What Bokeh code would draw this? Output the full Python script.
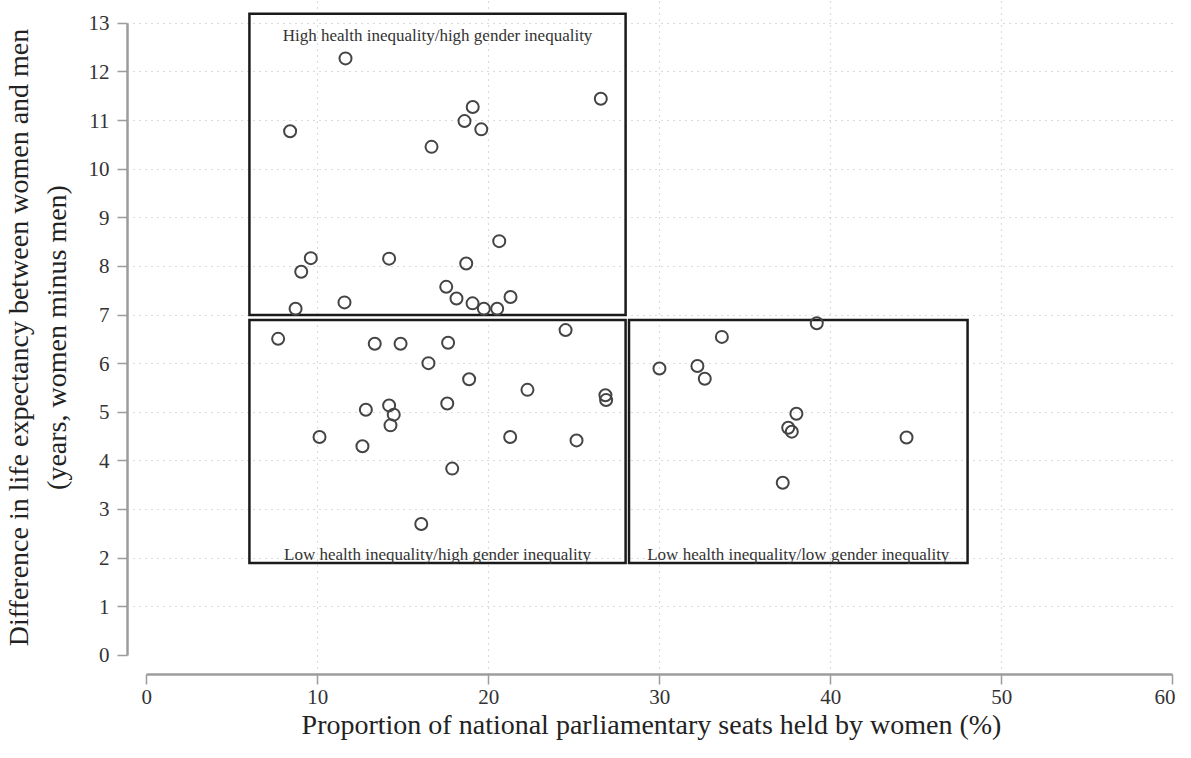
from bokeh.plotting import figure
from bokeh.models import FixedTicker, Range1d
from bokeh.embed import file_html
from bokeh.resources import INLINE
from bokeh.core.properties import value

# ---- data ----
seats = [
    11.62, 8.38, 19.06, 18.58, 19.56, 16.65, 26.55, 20.61, 9.59, 9.03,
    14.17, 18.68, 17.51, 18.11, 19.05, 19.71, 20.49, 21.27, 11.56, 8.70,
    7.68, 13.33, 14.84, 17.62, 24.49, 16.47, 18.85, 22.26, 26.82, 26.86,
    12.81, 14.17, 14.44, 14.25, 17.57, 10.10, 12.61, 21.25, 25.13, 17.86,
    16.05,
    29.98, 32.20, 32.63, 33.63, 39.18, 37.99, 37.51, 37.72, 44.43, 37.19,
]
life_gap = [
    12.28, 10.78, 11.28, 10.99, 10.82, 10.46, 11.45, 8.52, 8.17, 7.89,
    8.16, 8.06, 7.58, 7.34, 7.24, 7.13, 7.13, 7.37, 7.26, 7.13,
    6.51, 6.41, 6.41, 6.43, 6.69, 6.01, 5.68, 5.46, 5.35, 5.25,
    5.05, 5.14, 4.95, 4.73, 5.18, 4.49, 4.30, 4.49, 4.42, 3.84,
    2.70,
    5.90, 5.95, 5.69, 6.55, 6.83, 4.97, 4.68, 4.60, 4.48, 3.55,
]

region_names = [
    "High health inequality/high gender inequality",
    "Low health inequality/high gender inequality",
    "Low health inequality/low gender inequality",
]
region_left = [6.0, 6.0, 28.2]
region_right = [28.0, 28.0, 48.0]
region_bottom = [7.0, 1.9, 1.9]
region_top = [13.2, 6.9, 6.9]
region_label_y = [12.75, 2.07, 2.07]

x_ticks = [0, 10, 20, 30, 40, 50, 60]
y_ticks = list(range(0, 14))

x_title = "Proportion of national parliamentary seats held by women (%)"
y_title = "Difference in life expectancy between women and men\n(years, women minus men)"

SERIF = "Liberation Serif"

# ---- figure ----
p = figure(
    width=1175, height=742,
    x_range=Range1d(-1.13, 60.16), y_range=Range1d(-0.396, 13.471),
    output_backend="svg", toolbar_location=None,
    min_border_left=127, min_border_right=0, min_border_top=0, min_border_bottom=66,
)
p.outline_line_color = None
p.background_fill_color = "white"
p.border_fill_color = "white"

# grids
p.xgrid.ticker = FixedTicker(ticks=x_ticks[1:-1])
p.ygrid.ticker = FixedTicker(ticks=y_ticks[1:])
for g in (p.xgrid, p.ygrid):
    g.grid_line_color = "#b8b8b8"
    g.grid_line_dash = "1 5"
    g.grid_line_width = 1.2

# axes
p.xaxis.ticker = FixedTicker(ticks=x_ticks)
p.yaxis.ticker = FixedTicker(ticks=y_ticks)
p.xaxis.bounds = (x_ticks[0], x_ticks[-1])
p.yaxis.bounds = (y_ticks[0], y_ticks[-1])
for ax in (p.xaxis, p.yaxis):
    ax.axis_line_color = "#9c9c9c"
    ax.axis_line_width = 2.5
    ax.major_tick_line_color = "#9c9c9c"
    ax.major_tick_line_width = 1.5
    ax.major_tick_in = 0
    ax.minor_tick_line_color = None
    ax.major_label_text_font = SERIF
    ax.major_label_text_font_size = "21px"
    ax.major_label_text_color = "#333333"
    ax.axis_label_text_font = SERIF
    ax.axis_label_text_font_size = "28px"
    ax.axis_label_text_font_style = "normal"
    ax.axis_label_text_color = "#222222"

p.xaxis.axis_label = x_title
p.xaxis.major_tick_out = 10
p.xaxis.major_label_standoff = 5
p.xaxis.axis_label_standoff = 2
p.yaxis.axis_label = y_title
p.yaxis.major_tick_out = 10
p.yaxis.major_label_standoff = 8
p.yaxis.axis_label_standoff = 14
p.yaxis.major_label_orientation = "horizontal"

# region boxes
p.quad(left=region_left, right=region_right, bottom=region_bottom, top=region_top,
       fill_color=None, line_color="#1a1a1a", line_width=2.5, line_join="miter")

label_x = [(a + b) / 2 for a, b in zip(region_left, region_right)]
p.text(x=label_x, y=region_label_y, text=region_names,
       text_font=value(SERIF), text_font_size=value("17px"),
       text_align="center", text_baseline="alphabetic", text_color="#333333")

# points
p.scatter(seats, life_gap, marker="circle", size=12, fill_color=None,
          line_color="#444444", line_width=2)

open("out.html", "w").write(file_html(p, INLINE))
